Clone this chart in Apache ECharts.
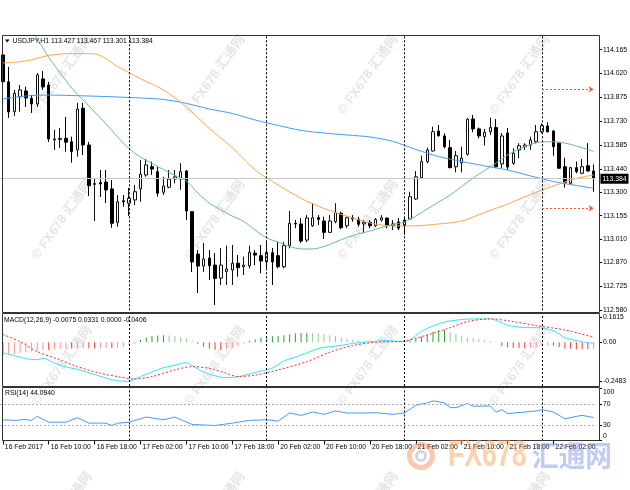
<!DOCTYPE html>
<html>
<head>
<meta charset="utf-8">
<script src="https://cdn.jsdelivr.net/npm/echarts@6.0.0/dist/echarts.min.js"></script>
<style>
html,body{margin:0;padding:0;background:#fff;}
#chart{width:630px;height:490px;}
</style>
</head>
<body>
<div id="chart"></div>
<script>
// ================= DATA =================
const symbolName = 'USDJPY,H1';
const dayNames = ['16 Feb', '17 Feb', '20 Feb', '21 Feb', '22 Feb'];
const dayFirstHour = [2, 0, 0, 0, 0];
const dayLastHour = [23, 23, 23, 23, 9];
const xTickLabels = ['16 Feb 2017', '16 Feb 10:00', '16 Feb 18:00', '17 Feb 02:00', '17 Feb 10:00', '17 Feb 18:00',
  '20 Feb 02:00', '20 Feb 10:00', '20 Feb 18:00', '21 Feb 02:00', '21 Feb 10:00', '21 Feb 18:00', '22 Feb 02:00'];

const open = [
114.133,113.969,113.788,113.879,113.914,113.869,113.835,113.987,113.950,113.616,
113.619,113.626,113.605,113.555,113.809,113.585,113.345,113.356,113.360,113.318,
113.115,113.246,113.231,113.251,113.318,113.403,113.453,113.423,113.298,113.328,
113.378,113.378,113.427,113.180,112.922,112.849,112.898,112.855,112.776,112.815,
112.825,112.866,112.845,112.851,112.927,112.912,112.875,112.930,112.912,112.845,
112.973,113.109,113.105,113.007,113.094,113.143,113.123,113.054,113.119,113.170,
113.094,113.143,113.133,113.105,113.115,113.094,113.129,113.141,113.094,113.117,
113.094,113.135,113.257,113.386,113.484,113.549,113.670,113.640,113.569,113.453,
113.476,113.529,113.743,113.683,113.636,113.666,113.691,113.470,113.658,113.474,
113.555,113.575,113.585,113.605,113.666,113.701,113.670,113.596,113.453,113.352,
113.447,113.413,113.459,113.427];
const high = [
114.163,114.060,113.920,113.950,113.940,113.889,114.023,114.035,113.969,113.677,
113.689,113.756,113.636,113.841,113.841,113.604,113.385,113.433,113.433,113.372,
113.281,113.281,113.324,113.342,113.494,113.500,113.484,113.453,113.392,113.433,
113.433,113.474,113.433,113.184,112.947,112.989,112.947,112.928,112.959,112.973,
112.977,112.916,112.906,112.973,112.947,112.977,112.997,112.959,112.997,112.997,
113.184,113.129,113.141,113.159,113.231,113.159,113.149,113.159,113.231,113.180,
113.149,113.159,113.149,113.129,113.129,113.141,113.159,113.143,113.129,113.141,
113.143,113.301,113.427,113.520,113.569,113.697,113.707,113.656,113.616,113.549,
113.575,113.748,113.768,113.691,113.683,113.751,113.743,113.658,113.689,113.565,
113.596,113.596,113.636,113.707,113.717,113.723,113.677,113.602,113.508,113.453,
113.484,113.500,113.596,113.467];
const low = [
113.956,113.750,113.762,113.788,113.816,113.780,113.816,113.920,113.604,113.555,
113.567,113.545,113.478,113.514,113.524,113.275,113.123,113.269,113.232,113.082,
113.088,113.210,113.153,113.220,113.240,113.392,113.403,113.271,113.281,113.322,
113.352,113.312,113.129,112.813,112.685,112.813,112.764,112.612,112.734,112.734,
112.734,112.784,112.795,112.835,112.855,112.805,112.835,112.734,112.835,112.835,
112.957,113.079,112.989,112.995,113.088,113.099,113.014,113.050,113.109,113.074,
113.079,113.119,113.088,113.048,113.079,113.088,113.119,113.079,113.068,113.068,
113.038,113.129,113.251,113.378,113.474,113.545,113.636,113.565,113.444,113.419,
113.419,113.520,113.663,113.626,113.581,113.646,113.444,113.446,113.433,113.464,
113.504,113.555,113.555,113.596,113.656,113.663,113.520,113.439,113.326,113.346,
113.413,113.407,113.423,113.301];
const close = [
113.970,113.786,113.900,113.920,113.871,113.835,114.011,113.938,113.622,113.622,
113.625,113.602,113.545,113.804,113.585,113.338,113.351,113.348,113.312,113.109,
113.240,113.240,113.261,113.301,113.407,113.464,113.439,113.292,113.336,113.378,
113.391,113.423,113.184,112.874,112.849,112.892,112.851,112.774,112.855,112.831,
112.866,112.839,112.855,112.933,112.916,112.880,112.933,112.874,112.845,112.973,
113.109,113.105,113.001,113.141,113.143,113.133,113.054,113.123,113.173,113.082,
113.143,113.135,113.103,113.115,113.094,113.133,113.143,113.094,113.105,113.080,
113.129,113.271,113.392,113.484,113.555,113.666,113.642,113.575,113.447,113.520,
113.506,113.743,113.683,113.640,113.663,113.691,113.453,113.640,113.451,113.535,
113.581,113.585,113.616,113.666,113.703,113.665,113.575,113.444,113.358,113.447,
113.423,113.453,113.427,113.384];

// moving averages: [barIndex, price]
const orangeMA = [[0,114.084],[4,114.096],[8,114.130],[12,114.141],[16,114.139],[20,114.062],[24,113.988],[28,113.920],
  [32,113.816],[36,113.686],[40,113.569],[44,113.433],[48,113.342],[52,113.260],[56,113.199],[60,113.152],[64,113.111],
  [68,113.093],[72,113.094],[76,113.105],[80,113.123],[84,113.175],[88,113.226],[92,113.284],[96,113.336],[100,113.382],[103,113.403]];
const greenMA = [[4,114.330],[6,114.230],[8,114.118],[10,114.023],[12,113.932],[14,113.859],[16,113.786],[18,113.713],[20,113.634],
  [22,113.564],[24,113.512],[26,113.473],[28,113.436],[30,113.400],[32,113.366],[34,113.293],[36,113.232],[38,113.190],
  [40,113.153],[42,113.120],[44,113.068],[46,113.020],[48,112.995],[50,112.968],[52,112.953],[54,112.953],[56,112.968],
  [58,112.995],[60,113.023],[62,113.044],[64,113.062],[66,113.083],[68,113.102],[70,113.117],[72,113.153],[74,113.196],
  [76,113.239],[78,113.281],[80,113.333],[82,113.385],[84,113.430],[86,113.476],[88,113.524],[90,113.561],[92,113.588],
  [94,113.604],[96,113.605],[98,113.597],[100,113.579],[102,113.558],[103,113.545]];
const blueMA = [[0,113.865],[4,113.883],[8,113.889],[12,113.886],[16,113.882],[20,113.877],[24,113.871],[28,113.862],
  [32,113.838],[36,113.804],[40,113.777],[44,113.737],[48,113.704],[52,113.674],[56,113.658],[60,113.646],[64,113.634],
  [68,113.607],[72,113.558],[76,113.515],[80,113.485],[84,113.458],[88,113.433],[92,113.397],[96,113.363],[100,113.339],[103,113.322]];

const arrowLevels = [113.924, 113.200];
const arrowFromBar = 94, arrowToBar = 103;

// MACD(12,26,9)
const macdHist = [
-0.085,-0.080,-0.075,-0.068,-0.062,-0.058,-0.052,-0.050,-0.050,-0.045,
-0.042,-0.040,-0.040,-0.038,-0.036,-0.038,-0.040,-0.038,-0.036,-0.038,
-0.035,-0.030,-0.020,-0.010,0.015,0.030,0.040,0.043,0.045,0.043,
0.040,0.035,0.025,0.010,-0.010,-0.030,-0.040,-0.048,-0.050,-0.045,
-0.035,-0.025,-0.010,0.010,0.020,0.030,0.035,0.038,0.042,0.045,
0.052,0.058,0.060,0.060,0.058,0.055,0.052,0.045,0.040,0.030,
0.025,0.018,0.012,0.008,0.005,0.004,0.003,0.003,0.002,0.002,
0.003,0.010,0.020,0.035,0.050,0.068,0.078,0.080,0.065,0.055,
0.040,0.030,0.028,0.022,0.015,0.008,0.003,-0.025,-0.032,-0.035,
-0.036,-0.036,-0.035,-0.030,-0.025,-0.020,-0.022,-0.030,-0.040,-0.042,
-0.044,-0.045,-0.045,-0.0406];
const macdLine = [[0,-0.068],[2,-0.085],[4,-0.105],[6,-0.112],[7,-0.103],[9,-0.133],[11,-0.158],[13,-0.173],[15,-0.195],
  [17,-0.218],[19,-0.240],[21,-0.250],[22,-0.248],[24,-0.220],[26,-0.190],[28,-0.163],[30,-0.147],[32,-0.130],[33,-0.150],
  [35,-0.190],[37,-0.215],[39,-0.227],[41,-0.221],[43,-0.203],[45,-0.185],[47,-0.165],[49,-0.120],[51,-0.095],[53,-0.068],
  [55,-0.040],[57,-0.028],[59,-0.020],[61,-0.007],[64,0.004],[67,0.011],[70,0.004],[71,0.015],[73,0.070],[75,0.105],
  [77,0.130],[79,0.142],[82,0.150],[85,0.150],[88,0.110],[91,0.094],[93,0.094],[96,0.075],[98,0.030],[101,0.004],[103,-0.0075]];
const macdSignal = [[0,0.050],[3,0.004],[6,-0.060],[10,-0.113],[13,-0.156],[17,-0.199],[20,-0.220],[23,-0.235],[26,-0.220],
  [30,-0.177],[33,-0.156],[36,-0.167],[39,-0.199],[41,-0.220],[44,-0.210],[48,-0.177],[53,-0.124],[57,-0.064],[61,-0.021],
  [65,0.000],[70,0.009],[74,0.047],[78,0.094],[81,0.133],[85,0.150],[89,0.133],[93,0.107],[98,0.079],[103,0.0331]];
const macdTicks = [0.1615, 0, -0.2483];
const macdHeader = 'MACD(12,26,9) -0.0075 0.0331 0.0000 -0.0406';

// RSI(14)
const rsi = [[0,39.6],[2,38.4],[4,40.3],[5,38.4],[6,46.1],[8,35.1],[11,35.1],[13,43.5],[15,33.2],[18,33.2],[19,28.7],
  [20,33.0],[22,35.1],[25,44.8],[28,39.7],[30,44.8],[33,30.6],[37,28.7],[40,33.2],[43,38.4],[46,39.7],[48,37.1],[50,52.6],
  [52,48.0],[54,54.5],[56,50.0],[58,56.5],[60,52.6],[63,52.6],[65,53.2],[68,50.0],[70,52.6],[72,67.4],[74,72.0],[75,75.8],
  [77,72.0],[78,62.9],[79,62.9],[81,70.7],[82,65.5],[85,66.1],[86,54.5],[87,59.0],[88,51.3],[91,54.5],[93,56.5],[94,59.0],
  [96,54.5],[98,41.5],[100,46.1],[101,48.0],[103,44.094]];
const rsiLevels = [70, 30];
const rsiTicks = [100, 70, 30, 0];
const rsiHeader = 'RSI(14) 44.0940';

const priceTicks = [114.165, 114.020, 113.875, 113.730, 113.585, 113.440, 113.300, 113.155, 113.010, 112.870, 112.725, 112.580];

// ================= BUILD =================
const categories = [];
dayNames.forEach((d, k) => {
  for (let h = dayFirstHour[k]; h <= dayLastHour[k]; h++) categories.push(d + ' ' + String(h).padStart(2, '0') + ':00');
});
const daySepIdx = categories.map((c, i) => c.endsWith(' 00:00') ? i : -1).filter(i => i >= 0);
const N = categories.length;
const ohlc = open.map((o, i) => [o, close[i], low[i], high[i]]);
const last = N - 1;
const lastClose = close[last];

const FONT_FAMILY = '"Liberation Sans", Arial, sans-serif';
const FS = 6.8;
const BAR = 5.735;
const GW = N * BAR;
const AX_OFF = 599 - GW;

function sepLines() {
  return daySepIdx.map(i => ({ xAxis: i, lineStyle: { color: '#000', type: [2, 2], width: 1 }, label: { show: false } }));
}

const lbl = { fontSize: FS, color: '#000', fontFamily: FONT_FAMILY };

const chart = echarts.init(document.getElementById('chart'), null, { renderer: 'canvas' });

const graphics = [];
// watermarks
const wmX = [62, 215, 368, 520];
const wmY = [75, 220, 366, 512];
wmX.forEach(x => wmY.forEach(y => graphics.push({
  type: 'text', x: x, y: y, rotation: 0.95, z: -10, silent: true,
  style: { text: '© FX678 汇通网', font: 'bold 13px "Liberation Sans","Noto Sans CJK SC",sans-serif',
    fill: 'rgba(150,150,150,0.25)', align: 'center', verticalAlign: 'middle' }
})));
// frames
[[35.5, 277], [313.5, 73], [387.5, 53]].forEach(r => graphics.push({
  type: 'rect', z: 100, silent: true, shape: { x: 2.5, y: r[0], width: 597, height: r[1] },
  style: { fill: 'none', stroke: '#333', lineWidth: 1 }
}));
// headers
graphics.push({ type: 'polygon', z: 101, silent: true, shape: { points: [[5, 39.5], [9.5, 39.5], [7.25, 42.5]] }, style: { fill: '#000' } });
graphics.push({ type: 'text', z: 101, silent: true, x: 12.5, y: 41.5, style: {
  text: symbolName + ' ' + [open[last], high[last], low[last], close[last]].map(v => v.toFixed(3)).join(' '),
  font: FS + 'px ' + FONT_FAMILY, fill: '#000', verticalAlign: 'middle' } });
graphics.push({ type: 'text', z: 101, silent: true, x: 4, y: 320, style: { text: macdHeader, font: FS + 'px ' + FONT_FAMILY, fill: '#000', verticalAlign: 'middle' } });
graphics.push({ type: 'text', z: 101, silent: true, x: 5, y: 393.5, style: { text: rsiHeader, font: FS + 'px ' + FONT_FAMILY, fill: '#000', verticalAlign: 'middle' } });
// big logo
graphics.push({ type: 'circle', z: 102, silent: true, shape: { cx: 421, cy: 456, r: 11.5 }, style: { fill: 'none', stroke: 'rgba(245,130,80,0.45)', lineWidth: 5 } });
graphics.push({ type: 'circle', z: 102, silent: true, shape: { cx: 421, cy: 456, r: 4.5 }, style: { fill: 'none', stroke: 'rgba(170,170,190,0.5)', lineWidth: 3 } });
graphics.push({ type: 'text', z: 102, silent: true, x: 448, y: 456, scaleX: 0.72, style: { text: 'FX678', font: 'bold 37px "Liberation Sans",sans-serif', fill: 'rgba(250,165,95,0.5)', verticalAlign: 'middle' } });
graphics.push({ type: 'text', z: 102, silent: true, x: 532, y: 456, scaleX: 0.92, style: { text: '汇通网', font: 'bold 29px "Noto Sans CJK SC",sans-serif', fill: 'rgba(120,140,225,0.45)', verticalAlign: 'middle' } });

const option = {
  animation: false,
  backgroundColor: '#fff',
  textStyle: { fontFamily: FONT_FAMILY },
  grid: [
    { left: 0, top: 35, width: GW, height: 275.3, outerBoundsMode: 'none' },
    { left: 0, top: 314, width: GW, height: 72, outerBoundsMode: 'none' },
    { left: 0, top: 388.2, width: GW, height: 52.3, outerBoundsMode: 'none' }
  ],
  xAxis: [
    { type: 'category', gridIndex: 0, data: categories, show: false },
    { type: 'category', gridIndex: 1, data: categories, show: false },
    { type: 'category', gridIndex: 2, data: categories,
      axisLine: { show: false },
      axisTick: { show: true, interval: 7, alignWithLabel: true, length: 4, lineStyle: { color: '#000' } },
      axisLabel: Object.assign({ interval: 7, align: 'left', margin: 3, padding: [0, 0, 0, 2],
        formatter: (v, i) => xTickLabels[i / 8] || '' }, lbl),
      splitLine: { show: false } }
  ],
  yAxis: [
    { type: 'value', gridIndex: 0, position: 'right', offset: AX_OFF, min: 112.580, max: 114.254, scale: true,
      axisLine: { show: false }, splitLine: { show: false },
      axisTick: { show: true, length: 3, customValues: priceTicks, lineStyle: { color: '#000' } },
      axisLabel: Object.assign({ margin: 4, customValues: priceTicks, formatter: v => v.toFixed(3) }, lbl) },
    { type: 'value', gridIndex: 1, position: 'right', offset: AX_OFF, min: -0.2803, max: 0.1815,
      axisLine: { show: false }, splitLine: { show: false },
      axisTick: { show: true, length: 3, customValues: macdTicks, lineStyle: { color: '#000' } },
      axisLabel: Object.assign({ margin: 4, customValues: macdTicks, formatter: v => v === 0 ? '0.00' : v.toFixed(4) }, lbl) },
    { type: 'value', gridIndex: 2, position: 'right', offset: AX_OFF, min: 0, max: 100,
      axisLine: { show: false }, splitLine: { show: false },
      axisTick: { show: true, length: 3, customValues: rsiTicks, lineStyle: { color: '#000' } },
      axisLabel: Object.assign({ margin: 4, customValues: rsiTicks,
        formatter: v => v === 100 ? '{t|100}' : (v === 0 ? '{b|0}' : String(v)),
        rich: { t: { padding: [8, 0, 0, 0], fontSize: FS, color: '#000' }, b: { padding: [0, 0, 8, 0], fontSize: FS, color: '#000' } } }, lbl) }
  ],
  graphic: { elements: graphics },
  series: [
    { type: 'candlestick', xAxisIndex: 0, yAxisIndex: 0, data: ohlc, barWidth: 3,
      itemStyle: { color: '#ffffff', color0: '#000000', borderColor: '#111', borderColor0: '#000', borderWidth: 1 },
      markLine: { silent: true, symbol: ['none', 'none'], animation: false,
        data: [{ yAxis: lastClose, lineStyle: { color: '#c8c8c8', type: 'solid', width: 1 },
          label: { show: true, position: 'end', formatter: lastClose.toFixed(3), color: '#fff', backgroundColor: '#000',
            padding: [2, 2, 1, 2], fontSize: FS, fontFamily: FONT_FAMILY, distance: 4 } }].concat(sepLines()) } },
    { type: 'line', xAxisIndex: 0, yAxisIndex: 0, data: blueMA, symbol: 'none', smooth: 0.3, lineStyle: { color: '#3f9cff', width: 1 } },
    { type: 'line', xAxisIndex: 0, yAxisIndex: 0, data: orangeMA, symbol: 'none', smooth: 0.3, lineStyle: { color: '#ffa64d', width: 1 } },
    { type: 'line', xAxisIndex: 0, yAxisIndex: 0, data: greenMA, symbol: 'none', smooth: 0.3, lineStyle: { color: '#62c08a', width: 1 } },
    { type: 'line', xAxisIndex: 0, yAxisIndex: 0, data: [],
      markLine: { silent: true, symbol: ['none', 'arrow'], symbolSize: 5, animation: false,
        lineStyle: { color: '#ff5a1e', type: [2, 2], width: 1 }, label: { show: false },
        data: arrowLevels.map(v => [{ coord: [arrowFromBar, v] }, { coord: [arrowToBar, v] }]) } },
    { type: 'bar', xAxisIndex: 1, yAxisIndex: 1, data: macdHist, barWidth: 1,
      itemStyle: { color: p => {
        const v = p.value, pv = p.dataIndex > 0 ? macdHist[p.dataIndex - 1] : v;
        if (v >= 0) return v >= pv ? '#2f9e2f' : '#8fd08f';
        return v <= pv ? '#ff3535' : '#ff9090';
      } },
      markLine: { silent: true, symbol: ['none', 'none'], animation: false, data: sepLines() } },
    { type: 'line', xAxisIndex: 1, yAxisIndex: 1, data: macdLine, symbol: 'none', smooth: 0.3, lineStyle: { color: '#33e2ff', width: 1 } },
    { type: 'line', xAxisIndex: 1, yAxisIndex: 1, data: macdSignal, symbol: 'none', smooth: 0.3, lineStyle: { color: '#ff2a2a', width: 1, type: [2, 2] } },
    { type: 'line', xAxisIndex: 2, yAxisIndex: 2, data: rsi, symbol: 'none', lineStyle: { color: '#3f9cff', width: 1 },
      markLine: { silent: true, symbol: ['none', 'none'], animation: false,
        data: rsiLevels.map(v => ({ yAxis: v, lineStyle: { color: '#b0b0b0', type: [2, 2], width: 1 }, label: { show: false } })).concat(sepLines()) } }
  ]
};
chart.setOption(option);
</script>
</body>
</html>
